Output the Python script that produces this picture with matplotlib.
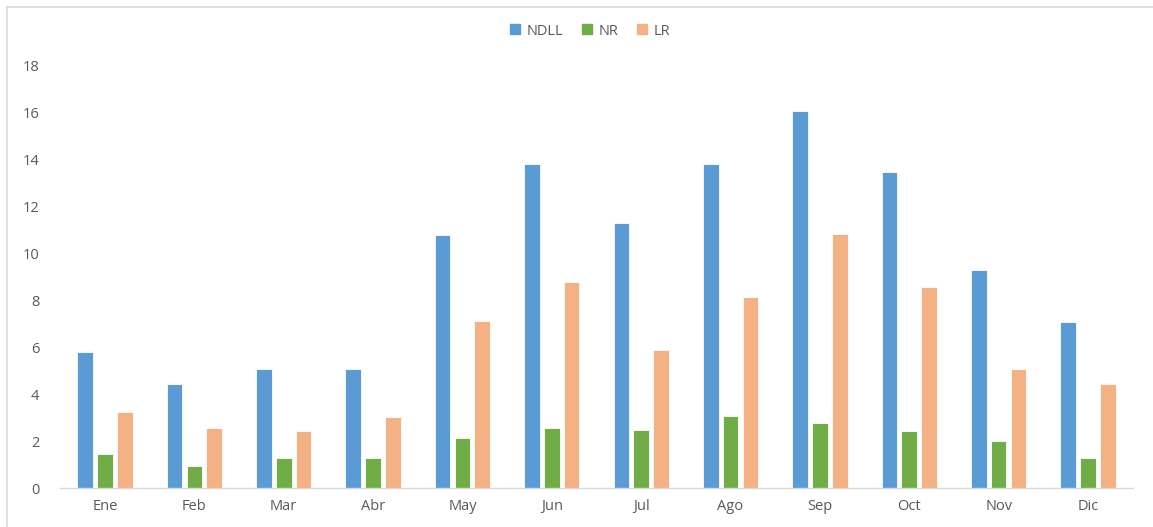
import matplotlib
matplotlib.use("Agg")
import matplotlib.pyplot as plt
import numpy as np
from matplotlib.lines import Line2D

months = ["Ene", "Feb", "Mar", "Abr", "May", "Jun", "Jul", "Ago", "Sep", "Oct", "Nov", "Dic"]
ndll = [5.8, 4.43, 5.08, 5.08, 10.77, 13.84, 11.3, 13.84, 16.09, 13.48, 9.3, 7.08]
nr = [1.45, 0.94, 1.28, 1.28, 2.13, 2.56, 2.47, 3.07, 2.77, 2.43, 2.0, 1.28]
lr = [3.24, 2.56, 2.43, 3.03, 7.12, 8.79, 5.89, 8.15, 10.84, 8.58, 5.08, 4.43]
series_names = ["NDLL", "NR", "LR"]
colors = ["#5B9BD5", "#70AD47", "#F4B183"]

plt.rcParams['font.family'] = ['Open Sans', 'DejaVu Sans']

fig = plt.figure(figsize=(11.53, 5.27), dpi=100)
ax = fig.add_axes([0.0523, 0.0740, 0.9301, 0.8008])

x = np.arange(len(months))
width = 0.175
offset = 0.222
for i, (vals, c) in enumerate(zip([ndll, nr, lr], colors)):
    ax.bar(x + (i - 1) * offset, vals, width, color=c, edgecolor="white", linewidth=0.6)

ax.set_xlim(-0.5, len(months) - 0.5)
ax.set_ylim(0, 18)
ax.set_yticks(range(0, 19, 2))
ax.set_xticks(x)
ax.set_xticklabels(months)
ax.tick_params(axis="both", length=0, colors="#595959", labelsize=10.5)
ax.tick_params(axis="y", pad=15)
ax.tick_params(axis="x", pad=8)
for s in ["top", "right", "left"]:
    ax.spines[s].set_visible(False)
ax.spines["bottom"].set_color("#D9D9D9")
ax.spines["bottom"].set_linewidth(1.0)

handles = [Line2D([0], [0], marker="s", linestyle="", markersize=7,
                  markerfacecolor=c, markeredgecolor=c) for c in colors]
fig.legend(handles, series_names, loc="center", bbox_to_anchor=(0.5096, 0.941),
           ncol=3, frameon=False, fontsize=10.5, handletextpad=0.1, handlelength=1.4,
           columnspacing=0.9, labelcolor="#595959")

# light frame lines along the top and left edges
fig.add_artist(Line2D([7 / 1153, 7 / 1153], [0, 1 - 7 / 527], transform=fig.transFigure,
                      color="#D9D9D9", linewidth=1.2))
fig.add_artist(Line2D([7 / 1153, 1], [1 - 7 / 527, 1 - 7 / 527], transform=fig.transFigure,
                      color="#D9D9D9", linewidth=1.2))

fig.savefig("out.png", dpi=100)
